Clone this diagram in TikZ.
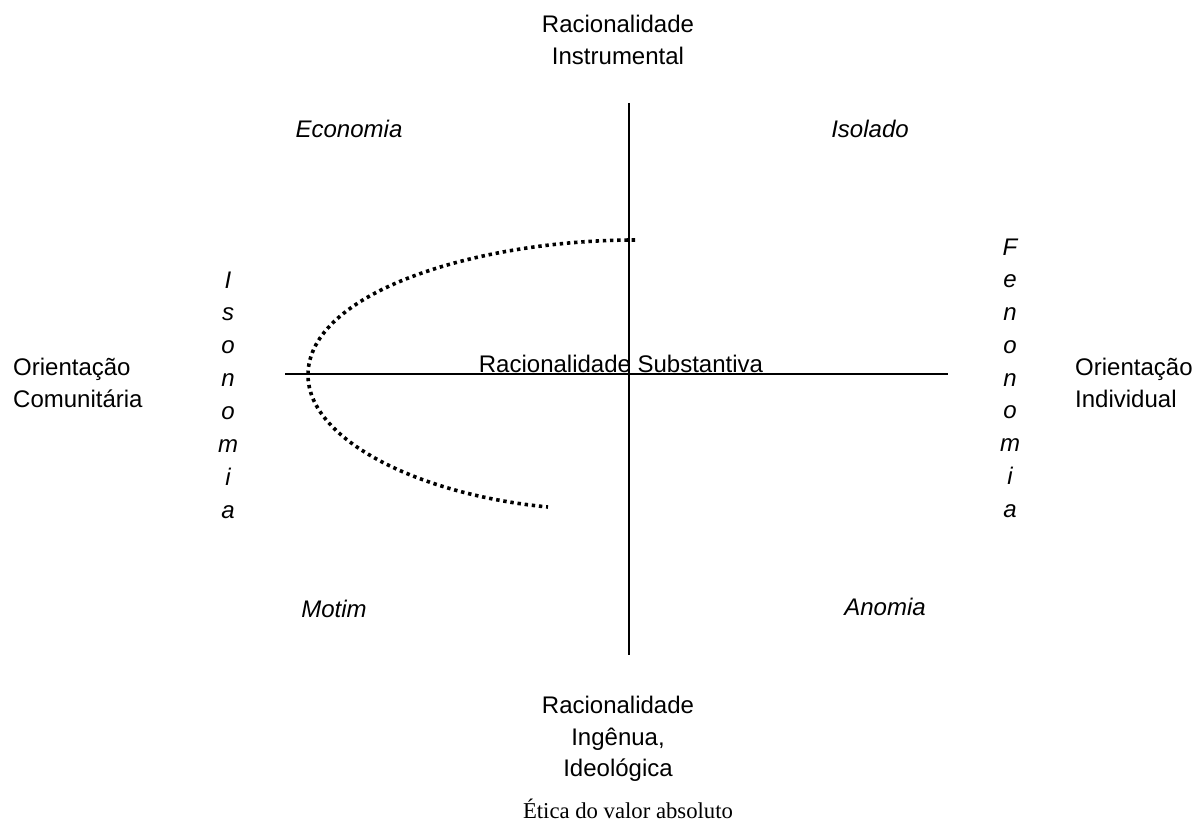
\documentclass[tikz,border=0pt]{standalone}
\usepackage{fontspec}
\setmainfont{Liberation Sans}
\newfontfamily\serifface{Liberation Serif}
\begin{document}
\begin{tikzpicture}[x=1pt,y=-1pt,
  lbl/.style={anchor=base,inner sep=0pt,font=\fontsize{24}{32}\selectfont},
  lbll/.style={lbl,anchor=base west},
  quad/.style={lbl,font=\fontsize{24}{32}\selectfont\itshape},
  axis/.style={line width=1.4pt,black},
  dots/.style={line width=3.6pt,dash pattern=on 3.4pt off 3.8pt,black}]
\useasboundingbox (0,0) rectangle (1199,832);

% axes
\coordinate (vtop) at (629,103);
\coordinate (vbot) at (629,655);
\coordinate (hleft) at (285,374);
\coordinate (hright) at (948,374);
\draw[axis] (vtop) -- (vbot);
\draw[axis] (hleft) -- (hright);

% dotted arc, upper and lower branches meeting at the vertex
\coordinate (arcup) at (635,240);
\coordinate (arcvertex) at (308,375);
\coordinate (arclow) at (548,507);
\draw[dots] (arcup) .. controls (478,240) and (308,292) .. (arcvertex)
            .. controls (308,440) and (420,495) .. (arclow);

% axis end labels
\node[lbl] (top1) at (618,33) {Racionalidade};
\node[lbl] (top2) at (618,65) {Instrumental};
\node[lbl] (bot1) at (618,713) {Racionalidade};
\node[lbl] (bot2) at (618,745) {Ingênua,};
\node[lbl] (bot3) at (618,776) {Ideológica};
\node[lbll] (left1) at (13,375) {Orientação};
\node[lbll] (left2) at (13,407) {Comunitária};
\node[lbll] (right1) at (1075,375) {Orientação};
\node[lbll] (right2) at (1075,407) {Individual};
\node[lbl] (subst) at (621,372) {Racionalidade Substantiva};

% quadrant labels
\node[quad] (econ) at (349,138) {Economia};
\node[quad] (isol) at (870,138) {Isolado};
\node[quad] (motim) at (334,617) {Motim};
\node[quad] (anom) at (885,615) {Anomia};

% vertical words
\foreach \ch [count=\i from 0] in {I,s,o,n,o,m,i,a}
  \node[quad] (iso-\i) at (228,288+32.9*\i) {\ch};
\foreach \ch [count=\i from 0] in {F,e,n,o,n,o,m,i,a}
  \node[quad] (fen-\i) at (1010,255+32.75*\i) {\ch};

% caption
\node[anchor=base,inner sep=0pt,font=\serifface\fontsize{22.7}{27}\selectfont] (cap) at (628,818) {Ética do valor absoluto};
\end{tikzpicture}
\end{document}
